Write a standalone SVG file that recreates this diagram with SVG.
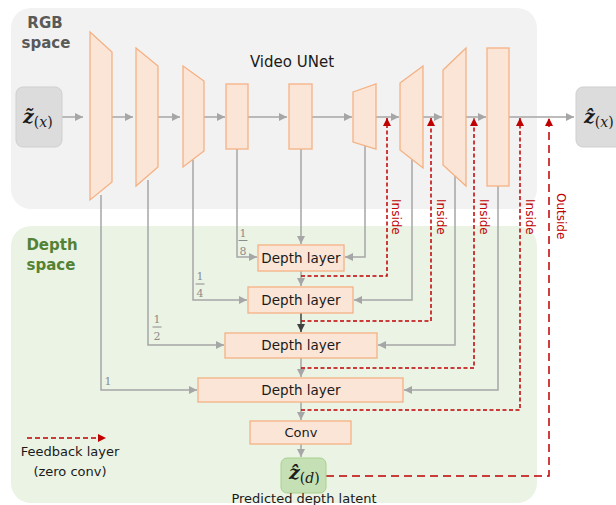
<svg xmlns="http://www.w3.org/2000/svg" width="616" height="505" viewBox="0 0 616 505">
<defs>
<style>
.sh{fill:#fbe5d6;stroke:#f4b183;stroke-width:1.3}
.g{fill:none;stroke:#a6a6a6;stroke-width:1.5}
.gd{fill:none;stroke:#404040;stroke-width:1.5}
.r{fill:none;stroke:#c00000;stroke-width:1.5;stroke-dasharray:4 2.5}
.ro{fill:none;stroke:#c00000;stroke-width:1.5;stroke-dasharray:8 5}
.t{font-family:"DejaVu Sans",sans-serif;fill:#1a1a1a}
.lbl{font-family:"DejaVu Sans",sans-serif;font-size:12px;fill:#c00000}
.fr{font-family:"DejaVu Serif",serif;font-size:11px;fill:#8c8c8c;text-anchor:middle}
.m{font-family:"DejaVu Serif",serif;fill:#1a1a1a}
.zb{font-size:19px;font-weight:bold;font-style:italic}
.sub{font-size:14px}
</style>
<marker id="ag" viewBox="0 0 10 10" refX="10" refY="5" markerWidth="9" markerHeight="8" markerUnits="userSpaceOnUse" orient="auto"><path d="M0,0 L10,5 L0,10 z" fill="#a6a6a6"/></marker>
<marker id="ad" viewBox="0 0 10 10" refX="10" refY="5" markerWidth="9" markerHeight="8" markerUnits="userSpaceOnUse" orient="auto"><path d="M0,0 L10,5 L0,10 z" fill="#404040"/></marker>
<marker id="ar" viewBox="0 0 10 10" refX="10" refY="5" markerWidth="9" markerHeight="8" markerUnits="userSpaceOnUse" orient="auto"><path d="M0,0 L10,5 L0,10 z" fill="#c00000"/></marker>
</defs>

<g id="backgrounds">
<rect x="11" y="8" width="526" height="201" rx="20" fill="#f2f2f2"/>
<rect x="11" y="226" width="526" height="277" rx="20" fill="#ebf3e4"/>
<text x="45" y="28" class="t" font-size="15" font-weight="bold" style="fill:#595959" text-anchor="middle">RGB</text>
<text x="46" y="48" class="t" font-size="15" font-weight="bold" style="fill:#595959" text-anchor="middle">space</text>
<text x="52" y="250" class="t" font-size="15" font-weight="bold" style="fill:#548235" text-anchor="middle">Depth</text>
<text x="51" y="270" class="t" font-size="15" font-weight="bold" style="fill:#548235" text-anchor="middle">space</text>
<text x="292" y="67" class="t" font-size="15" text-anchor="middle">Video UNet</text>
</g>

<g id="connectors">
<path class="g" marker-end="url(#ag)" d="M62,117 H83"/>
<path class="g" marker-end="url(#ag)" d="M112,117 H133"/>
<path class="g" marker-end="url(#ag)" d="M158,117 H180"/>
<path class="g" marker-end="url(#ag)" d="M204,117 H225"/>
<path class="g" marker-end="url(#ag)" d="M248,117 H287"/>
<path class="g" marker-end="url(#ag)" d="M312,117 H352"/>
<path class="g" marker-end="url(#ag)" d="M376,117 H399"/>
<path class="g" marker-end="url(#ag)" d="M423,117 H442"/>
<path class="g" marker-end="url(#ag)" d="M466,117 H486"/>
<path class="g" marker-end="url(#ag)" d="M509,117 H574"/>

<path class="g" marker-end="url(#ag)" d="M237,149 V257 H257"/>
<path class="g" marker-end="url(#ag)" d="M193,160 V300 H247"/>
<path class="g" marker-end="url(#ag)" d="M148,180 V345 H224"/>
<path class="g" marker-end="url(#ag)" d="M101,195 V390 H197"/>
<path class="g" marker-end="url(#ag)" d="M365,146 V257 H345"/>
<path class="g" marker-end="url(#ag)" d="M412,155 V300 H354"/>
<path class="g" marker-end="url(#ag)" d="M455,170 V345 H378"/>
<path class="g" marker-end="url(#ag)" d="M498,186 V390 H404"/>

<path class="g" marker-end="url(#ag)" d="M301,149 V244"/>
<path class="g" marker-end="url(#ag)" d="M301,271 V286"/>
<path class="gd" marker-end="url(#ad)" d="M301,313 V332"/>
<path class="g" marker-end="url(#ag)" d="M301,358 V377"/>
<path class="g" marker-end="url(#ag)" d="M301,402 V420"/>
<path class="g" marker-end="url(#ag)" d="M301,444 V457"/>

<path class="r" marker-end="url(#ar)" d="M301,276 H387 V118"/>
<path class="r" marker-end="url(#ar)" d="M301,321 H431 V118"/>
<path class="r" marker-end="url(#ar)" d="M301,368 H474 V118"/>
<path class="r" marker-end="url(#ar)" d="M301,410 H520 V118"/>
<path class="ro" marker-end="url(#ar)" d="M326,476 H549 V118"/>

<text class="lbl" transform="translate(392,199) rotate(90)">Inside</text>
<text class="lbl" transform="translate(437,199) rotate(90)">Inside</text>
<text class="lbl" transform="translate(480,199) rotate(90)">Inside</text>
<text class="lbl" transform="translate(526,199) rotate(90)">Inside</text>
<text class="lbl" transform="translate(557,193) rotate(90)">Outside</text>

<text class="fr" x="243" y="237">1</text>
<path d="M238.5,240.5 H247.5" stroke="#8c8c8c" stroke-width="1"/>
<text class="fr" x="243" y="255">8</text>
<text class="fr" x="200" y="280">1</text>
<path d="M195.5,284 H204.5" stroke="#8c8c8c" stroke-width="1"/>
<text class="fr" x="200" y="297">4</text>
<text class="fr" x="157" y="323">1</text>
<path d="M152.5,327 H161.5" stroke="#8c8c8c" stroke-width="1"/>
<text class="fr" x="157" y="340">2</text>
<text class="fr" x="108" y="385">1</text>
</g>

<g id="input">
<rect x="16" y="87" width="46" height="60" rx="7" fill="#dcdcdc" stroke="#cfcfcf"/>
<text class="m" x="23" y="123"><tspan class="zb">z&#x303;</tspan><tspan class="sub" dy="4">(<tspan font-style="italic">x</tspan>)</tspan></text>
</g>

<g id="enc1"><polygon class="sh" points="90,32 112,52 112,182 90,200"/></g>
<g id="enc2"><polygon class="sh" points="136,48 158,66 158,167 136,186"/></g>
<g id="enc3"><polygon class="sh" points="183,66 204,81 204,151 183,167"/></g>
<g id="enc4"><rect class="sh" x="226" y="84" width="22" height="65"/></g>
<g id="mid"><rect class="sh" x="289" y="84" width="23" height="65"/></g>
<g id="dec1"><polygon class="sh" points="353,92 376,84 376,149 353,142"/></g>
<g id="dec2"><polygon class="sh" points="400,83 423,66 423,168 400,150"/></g>
<g id="dec3"><polygon class="sh" points="443,70 466,48 466,186 443,165"/></g>
<g id="dec4"><rect class="sh" x="487" y="48" width="22" height="138"/></g>

<g id="output">
<rect x="576" y="87" width="50" height="60" rx="7" fill="#dcdcdc" stroke="#cfcfcf"/>
<text class="m" x="584" y="123"><tspan class="zb">z&#x302;</tspan><tspan class="sub" dy="4">(<tspan font-style="italic">x</tspan>)</tspan></text>
</g>

<g id="depth1"><rect class="sh" x="258" y="245" width="86" height="26"/><text class="t" x="301" y="263" font-size="13.5" text-anchor="middle">Depth layer</text></g>
<g id="depth2"><rect class="sh" x="248" y="287" width="105" height="26"/><text class="t" x="301" y="305" font-size="13.5" text-anchor="middle">Depth layer</text></g>
<g id="depth3"><rect class="sh" x="225" y="333" width="152" height="25"/><text class="t" x="301" y="350" font-size="13.5" text-anchor="middle">Depth layer</text></g>
<g id="depth4"><rect class="sh" x="198" y="378" width="205" height="24"/><text class="t" x="301" y="395" font-size="13.5" text-anchor="middle">Depth layer</text></g>
<g id="conv"><rect class="sh" x="250" y="421" width="101" height="23"/><text class="t" x="301" y="437" font-size="13" text-anchor="middle">Conv</text></g>

<g id="zd">
<rect x="281" y="458" width="45" height="35" rx="6" fill="#c5e0b4" stroke="#a9d18e"/>
<text class="m" x="289" y="479"><tspan class="zb">z&#x302;</tspan><tspan class="sub" dy="4">(<tspan font-style="italic">d</tspan>)</tspan></text>
<text class="t" x="304" y="503" font-size="13" text-anchor="middle">Predicted depth latent</text>
</g>

<g id="legend">
<path class="r" marker-end="url(#ar)" d="M27,438 H106" style="stroke-dasharray:5 3"/>
<text class="t" x="70" y="456" font-size="13" text-anchor="middle">Feedback layer</text>
<text class="t" x="70" y="476" font-size="13" text-anchor="middle">(zero conv)</text>
</g>
</svg>
